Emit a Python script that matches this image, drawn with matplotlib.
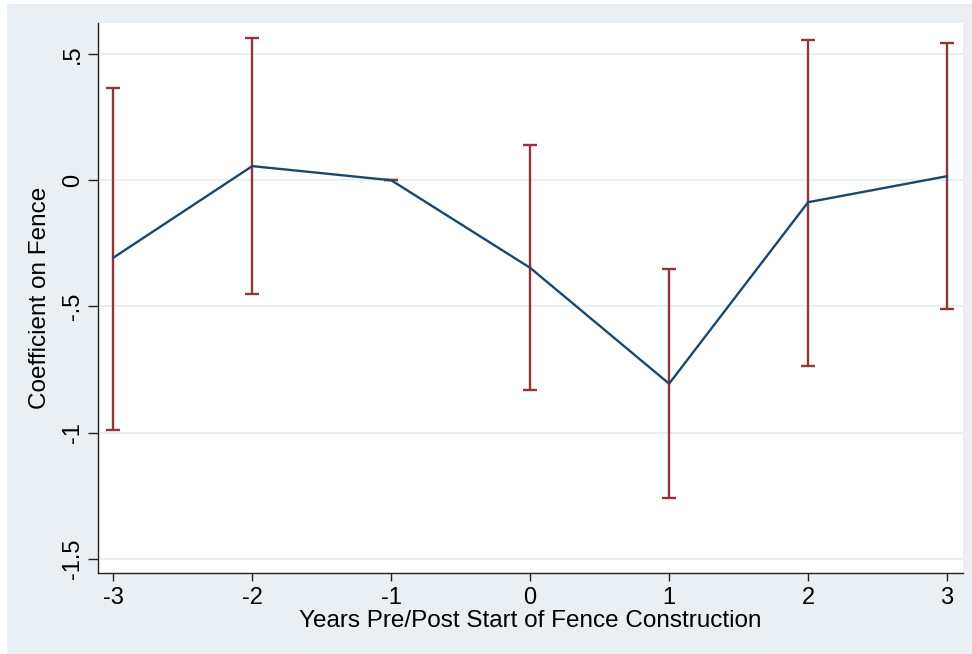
import matplotlib
matplotlib.use("Agg")
import matplotlib.pyplot as plt
from matplotlib.patches import Rectangle

# Event-study estimates: coefficient on fence by year relative to start of construction
years = [-3, -2, -1, 0, 1, 2, 3]
coef = [-0.307, 0.056, 0.0, -0.347, -0.806, -0.087, 0.016]
ci_low = [-0.988, -0.452, 0.0, -0.831, -1.258, -0.734, -0.512]
ci_high = [0.364, 0.563, 0.0, 0.139, -0.353, 0.556, 0.544]

ytick_vals = [0.5, 0.0, -0.5, -1.0, -1.5]
ytick_labels = [".5", "0", "-.5", "-1", "-1.5"]
xtick_vals = [-3, -2, -1, 0, 1, 2, 3]

BG = "#e9eff2"
GRID = "#e6eef0"
NAVY = "#1a476f"
MAROON = "#90353b"
FONT = ["Liberation Sans", "DejaVu Sans"]

plt.rcParams["font.family"] = FONT

fig = plt.figure(figsize=(9.72, 6.54), dpi=100)
fig.patch.set_facecolor("white")
fig.patches.append(Rectangle((7 / 972, 0), 1 - 7 / 972, 650 / 654,
                             transform=fig.transFigure, facecolor=BG,
                             edgecolor="none", zorder=-5))

# caption sitting on the top edge
fig.text(345 / 972, 1.0 + 9 / 654, "(a)", ha="center", va="center",
         fontsize=16, family="Liberation Serif", color="black")

ax = fig.add_axes([98 / 972, 81 / 654, 865 / 972, 550 / 654])
ax.set_zorder(2)
ax.set_facecolor("white")

lo_err = [c - l for c, l in zip(coef, ci_low)]
hi_err = [h - c for c, h in zip(coef, ci_high)]
ax.errorbar(years, coef, yerr=[lo_err, hi_err], fmt="none",
            ecolor=MAROON, elinewidth=1.7, capsize=5, capthick=1.7, zorder=3)
ax.plot(years, coef, color=NAVY, linewidth=1.7, zorder=4)

ax.set_xlim(-3.11, 3.115)
ax.set_ylim(-1.556, 0.623)

ax.set_yticks(ytick_vals)
ax.set_yticklabels(ytick_labels, rotation=90, va="center")
ax.set_xticks(xtick_vals)
ax.set_xticklabels([str(v) for v in xtick_vals])

ax.grid(axis="y", color=GRID, linewidth=1.2)
ax.set_axisbelow(True)

for side in ["top", "right"]:
    ax.spines[side].set_visible(False)
for side in ["left", "bottom"]:
    ax.spines[side].set_color("#222222")
    ax.spines[side].set_linewidth(1.0)

ax.tick_params(axis="y", length=7, width=1, color="#222222", labelsize=17, pad=3)
ax.tick_params(axis="x", length=6, width=1, color="#222222", labelsize=17, pad=4)

ax.set_ylabel("Coefficient on Fence", fontsize=17.5, labelpad=8)
ax.set_xlabel("Years Pre/Post Start of Fence Construction", fontsize=17.5, labelpad=1)

fig.savefig("out.png", dpi=100, facecolor=fig.get_facecolor())
